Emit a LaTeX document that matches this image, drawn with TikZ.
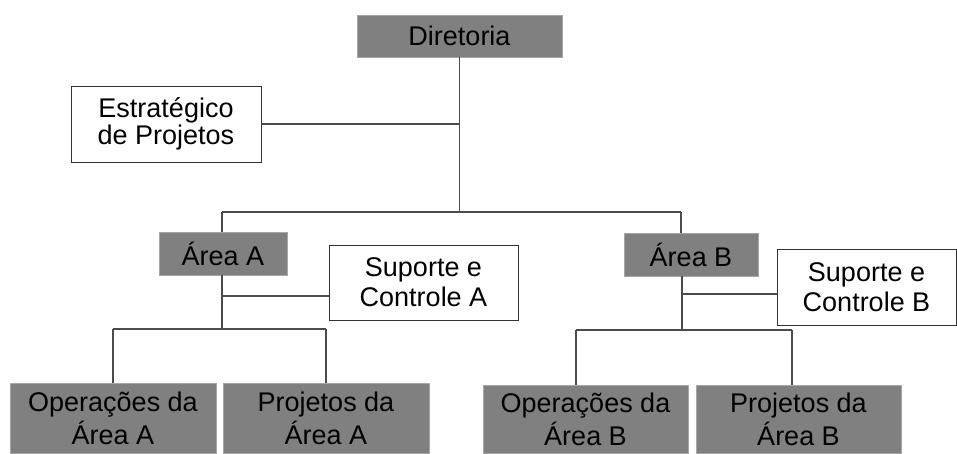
\documentclass[tikz,border=0pt]{standalone}
\usepackage{fontspec}
\setmainfont{Liberation Sans}
\begin{document}
\begin{tikzpicture}[x=1pt,y=-1pt,
    darkbox/.style={fill=gray,draw=gray!70,inner sep=0pt,align=center},
    lightbox/.style={fill=white,draw=black!80,inner sep=0pt,align=center},
    link/.style={draw=black!70,line width=1.2pt}]
    \useasboundingbox (0,0) rectangle (957,453);
    \tikzset{every node/.append style={font=\fontsize{27}{30}\selectfont}}
    % top
    \node[darkbox,minimum width=205pt,minimum height=42pt] (dir) at (459.5,36) {Diretoria};
    \node[lightbox,minimum width=190pt,minimum height=76pt,font=\fontsize{27}{27}\selectfont] (estr) at (166,124) {Estratégico\\de Projetos};
    % areas
    \node[darkbox,minimum width=128pt,minimum height=43pt] (areaA) at (223,253.5) {Área A};
    \node[lightbox,minimum width=189pt,minimum height=75pt] (supA) at (423.5,282.5) {Suporte e\\Controle A};
    \node[darkbox,minimum width=134pt,minimum height=43pt] (areaB) at (691,254.5) {Área B};
    \node[lightbox,minimum width=179pt,minimum height=76pt] (supB) at (866.5,287) {Suporte e\\Controle B};
    % bottom
    \tikzset{every node/.append style={font=\fontsize{27}{33}\selectfont}}
    \node[darkbox,minimum width=206pt,minimum height=70pt] (opA) at (113,418) {Operações da\\Área A};
    \node[darkbox,minimum width=206pt,minimum height=70pt] (projA) at (326,418) {Projetos da\\Área A};
    \node[darkbox,minimum width=205pt,minimum height=68pt] (opB) at (585.5,419) {Operações da\\Área B};
    \node[darkbox,minimum width=205pt,minimum height=68pt] (projB) at (798.5,419) {Projetos da\\Área B};
    \coordinate (busL) at (222,212);
    \coordinate (busR) at (681,212);
    \coordinate (jA) at (222,329);
    \coordinate (jB) at (682,330);
    \coordinate (dropB1) at (576,330);
    \coordinate (dropB2) at (792,330);
    % connectors
    \draw[link] (dir.south) -- (dir.south |- busL);
    \draw[link] (estr.east) -- (estr.east -| dir.south);
    \draw[link] (busL) -- (busR);
    \draw[link] (busL) -- (busL |- areaA.north);
    \draw[link] (busR) -- (busR |- areaB.north);
    \draw[link] (jA |- areaA.south) -- (jA);
    \draw[link] (jA |- 0,296) -- (supA.west |- 0,296);
    \draw[link] (opA.north |- jA) -- (projA.north |- jA);
    \draw[link] (opA.north |- jA) -- (opA.north);
    \draw[link] (projA.north |- jA) -- (projA.north);
    \draw[link] (jB |- areaB.south) -- (jB);
    \draw[link] (jB |- 0,294) -- (supB.west |- 0,294);
    \draw[link] (dropB1) -- (dropB2);
    \draw[link] (dropB1) -- (dropB1 |- opB.north);
    \draw[link] (dropB2) -- (dropB2 |- projB.north);
\end{tikzpicture}
\end{document}
